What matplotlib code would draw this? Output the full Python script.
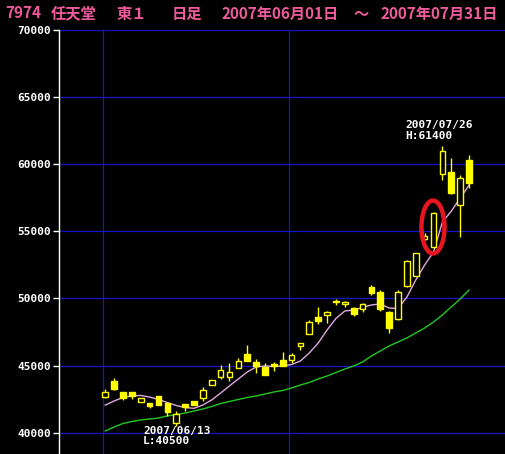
import matplotlib
matplotlib.use("Agg")
import matplotlib.pyplot as plt
from matplotlib.patches import Ellipse
import numpy as np

# ---------------- data ----------------
dates = ["06/01", "06/04", "06/05", "06/06", "06/07", "06/08", "06/11", "06/12", "06/13", "06/14",
         "06/15", "06/18", "06/19", "06/20", "06/21", "06/22", "06/25", "06/26", "06/27", "06/28",
         "06/29", "07/02", "07/03", "07/04", "07/05", "07/06", "07/09", "07/10", "07/11", "07/12",
         "07/13", "07/17", "07/18", "07/19", "07/20", "07/23", "07/24", "07/25", "07/26", "07/27",
         "07/30", "07/31"]
opens = [42630, 43870, 43030, 43000, 42260, 42230, 42710, 42230, 40690, 42110,
         42360, 42560, 43550, 44170, 44120, 44800, 45860, 45290, 44910, 45080,
         45410, 45410, 46460, 47330, 48640, 48770, 49800, 49570, 49310, 49220,
         50880, 50460, 49020, 48470, 50930, 51680, 54440, 53820, 59260, 59410,
         56970, 60330]
closes = [43050, 43230, 42560, 42750, 42580, 41960, 42060, 41560, 41390, 41890,
          42060, 43180, 43920, 44670, 44500, 45360, 45360, 44970, 44260, 45000,
          44970, 45790, 46700, 48270, 48340, 49020, 49740, 49760, 48840, 49590,
          50430, 49190, 47820, 50460, 52800, 53370, 54660, 56400, 61020, 57890,
          58960, 58640]
highs = [43250, 44070, 43050, 43000, 42600, 42230, 42710, 42230, 41590, 42150,
         42360, 43380, 43950, 45040, 45170, 45540, 46530, 45470, 45170, 45290,
         46010, 45960, 46700, 48400, 49390, 49050, 49940, 49800, 49400, 49690,
         51010, 50640, 49050, 50640, 52850, 53400, 54860, 56450, 61400, 60450,
         59210, 60700]
lows = [42600, 43200, 42430, 42500, 42260, 41810, 42060, 41240, 40500, 41630,
        42060, 42380, 43550, 44000, 43870, 44800, 45360, 44470, 44260, 44620,
        44970, 45170, 46160, 47330, 48080, 48150, 49520, 49340, 48700, 49020,
        50260, 49090, 47400, 48400, 50840, 51680, 54360, 53740, 58840, 57790,
        54560, 58220]
ma_short = [42050, 42360, 42620, 42730, 42770, 42650, 42470, 42240, 42020, 41870,
            41810, 42060, 42430, 42950, 43480, 44000, 44520, 44890, 44970, 44930,
            44970, 45080, 45340, 45940, 46680, 47650, 48510, 49070, 49140, 49330,
            49520, 49590, 49290, 49250, 50110, 51380, 52500, 53470, 55700, 56510,
            57480, 58450]
ma_long = [40120, 40418, 40680, 40830, 40940, 41014, 41090, 41240, 41350, 41460,
           41610, 41760, 41950, 42170, 42320, 42470, 42620, 42730, 42880, 43030,
           43140, 43330, 43550, 43740, 44000, 44220, 44480, 44740, 44970, 45260,
           45710, 46090, 46460, 46760, 47060, 47430, 47800, 48250, 48770, 49370,
           49960, 50630]
yticks = [40000, 45000, 50000, 55000, 60000, 65000, 70000]
title_parts = ["7974", "任天堂", "東１", "日足", "2007年06月01日", "～", "2007年07月31日"]
high_note = ("2007/07/26", "H:61400")
low_note = ("2007/06/13", "L:40500")

# ---------------- figure ----------------
W, H = 506, 454
fig = plt.figure(figsize=(W / 100, H / 100), dpi=100, facecolor="black")
ax = fig.add_axes([59.5 / W, 0, 1 - 59.5 / W, 1 - 30.3 / H], facecolor="black")

n = len(opens)
x = np.arange(n)
o = np.array(opens, float)
c = np.array(closes, float)
hi = np.array(highs, float)
lo = np.array(lows, float)

ax.set_xlim(-5.16, 45.17)
ax.set_ylim(38404, 70000)

grid_col = "#1414c8"
for v in yticks:
    ax.axhline(v, color=grid_col, lw=0.9, zorder=1)
# month boundaries
months = [d[:2] for d in dates]
for i in range(n):
    if i == 0 or months[i] != months[i - 1]:
        ax.axvline(i - 0.3, color=grid_col, lw=0.9, zorder=1)

# moving averages
ax.plot(x, ma_long, color="#22c822", lw=1.0, zorder=2)
ax.plot(x, ma_short, color="#e0a8e0", lw=1.0, zorder=2)

# candles
yellow = "#ffff00"
ax.vlines(x, lo, hi, color=yellow, lw=1.0, zorder=3)
up = c >= o
bottoms = np.minimum(o, c)
heights = np.maximum(np.abs(c - o), 60)
ax.bar(x[up], heights[up], bottom=bottoms[up], width=0.64,
       facecolor="black", edgecolor=yellow, linewidth=1.0, zorder=4)
ax.bar(x[~up], heights[~up], bottom=bottoms[~up], width=0.64,
       facecolor=yellow, edgecolor=yellow, linewidth=1.0, zorder=4)

# red highlight ellipse around the 07/25 candle
ax.add_patch(Ellipse((36.94, 55330), 2.6, 3950, fill=False,
                     edgecolor="#e8141e", lw=3.2, zorder=6))

# annotations
mono = dict(color="white", family="DejaVu Sans Mono", fontweight="bold",
            fontsize=8, va="center", ha="left", zorder=7)
ax.text(33.8, 62938, high_note[0], **mono)
ax.text(33.8, 62118, high_note[1], **mono)
ax.text(4.28, 40142, low_note[0], **mono)
ax.text(4.28, 39396, low_note[1], **mono)

# axes styling
for s in ["top", "right", "bottom"]:
    ax.spines[s].set_visible(False)
ax.spines["left"].set_color("white")
ax.spines["left"].set_linewidth(1.0)
ax.set_xticks([])
ax.set_yticks(yticks)
ax.set_yticklabels([str(v) for v in yticks])
ax.tick_params(axis="y", colors="white", length=4.3, width=1.0, pad=2)
for lab in ax.get_yticklabels():
    lab.set_fontfamily("DejaVu Sans Mono")
    lab.set_fontweight("bold")
    lab.set_fontsize(8)
    lab.set_color("white")

# title (segments placed across the top)
title_x = [5, 51, 117, 172, 222, 353, 381]
for t, px in zip(title_parts, title_x):
    fig.text(px / W, 1 - 13.5 / H, t, color="#ee5a9c", fontsize=11,
             fontweight="bold", family=["Noto Sans CJK JP", "DejaVu Sans"],
             ha="left", va="center")

fig.savefig("out.png", dpi=100, facecolor="black")
